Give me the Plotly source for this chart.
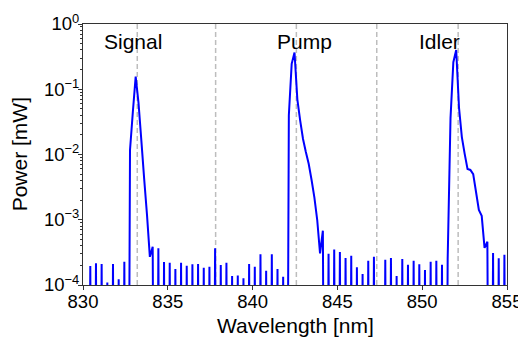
import numpy as np
import plotly.graph_objects as go

# Optical spectrum samples (nm, mW). Zero = below detection (noise-floor gaps)
wavelength_nm = [
    830.263, 830.430, 830.597, 830.765, 830.932, 831.099, 831.266, 831.434, 831.601, 831.768,
    831.935, 832.103, 832.270, 832.437, 832.604, 832.772, 832.939, 833.106, 833.273, 833.440,
    833.608, 833.775, 833.942, 834.109, 834.277, 834.444, 834.611, 834.778, 834.946, 835.113,
    835.280, 835.447, 835.614, 835.782, 835.949, 836.116, 836.283, 836.451, 836.618, 836.785,
    836.952, 837.120, 837.287, 837.454, 837.621, 837.789, 837.956, 838.123, 838.290, 838.457,
    838.625, 838.792, 838.959, 839.126, 839.294, 839.461, 839.628, 839.795, 839.963, 840.130,
    840.297, 840.464, 840.632, 840.799, 840.966, 841.133, 841.300, 841.468, 841.635, 841.802,
    841.969, 842.137, 842.304, 842.471, 842.638, 842.806, 842.973, 843.140, 843.307, 843.475,
    843.642, 843.809, 843.976, 844.143, 844.311, 844.478, 844.645, 844.812, 844.980, 845.147,
    845.314, 845.481, 845.649, 845.816, 845.983, 846.150, 846.318, 846.485, 846.652, 846.819,
    846.986, 847.154, 847.321, 847.488, 847.655, 847.823, 847.990, 848.157, 848.324, 848.492,
    848.659, 848.826, 848.993, 849.161, 849.328, 849.495, 849.662, 849.829, 849.997, 850.164,
    850.331, 850.498, 850.666, 850.833, 851.000, 851.167, 851.335, 851.502, 851.669, 851.836,
    852.004, 852.171, 852.338, 852.505, 852.672, 852.840, 853.007, 853.174, 853.341, 853.509,
    853.676, 853.843, 854.010, 854.178, 854.345, 854.512, 854.679, 854.847, 855.014,
]

power_mw = [
    0, 1.95e-4, 0, 2.15e-4, 0, 2.1e-4, 0, 1.09e-4, 0, 2.1e-4,
    0, 1.22e-4, 0, 2.28e-4, 0, 1.17e-2, 0.045, 0.156, 0.062, 0.0165,
    4.2e-3, 1.18e-3, 2.7e-4, 3.86e-4, 0, 3.65e-4, 0, 2.25e-4, 0, 2.2e-4,
    0, 1.76e-4, 0, 2.2e-4, 0, 1.98e-4, 0, 2.07e-4, 0, 2.1e-4,
    0, 1.84e-4, 0, 1.9e-4, 0, 3.65e-4, 0, 2.02e-4, 0, 2.2e-4,
    0, 1.37e-4, 0, 1.4e-4, 0, 1.27e-4, 0, 2.1e-4, 0, 1.9e-4,
    0, 2.95e-4, 0, 1.66e-4, 0, 2.95e-4, 0, 1.76e-4, 0, 1.34e-4,
    0, 0.040, 0.245, 0.365, 0.07, 0.033, 0.0173, 0.0109, 7.2e-3, 4.1e-3,
    2.2e-3, 1.0e-3, 3.06e-4, 6.8e-4, 0, 3.0e-4, 0, 3.5e-4, 0, 3.2e-4,
    0, 2.6e-4, 0, 2.8e-4, 0, 1.87e-4, 0, 1.47e-4, 0, 2.36e-4,
    0, 2.7e-4, 0, 0, 0, 2.44e-4, 0, 2.6e-4, 0, 1.37e-4,
    0, 2.5e-4, 0, 2.05e-4, 0, 2.36e-4, 0, 2.07e-4, 0, 1.7e-4,
    0, 2.28e-4, 0, 2.36e-4, 0, 2.05e-4, 0, 2.5e-4, 0.036, 0.26,
    0.40, 0.052, 0.0185, 0.0102, 6.0e-3, 5.8e-3, 5.0e-3, 2.66e-3, 1.41e-3, 1.15e-3,
    3.7e-4, 4.6e-4, 0, 3.1e-4, 0, 2.56e-4, 0, 2.9e-4, 0,
]

guide_wavelengths = [833.2, 837.82, 842.58, 847.32, 852.12]
peak_labels = ["Signal", "Pump", "Idler"]
peak_label_x = [832.92, 843.06, 851.0]

x_ticks = [830, 835, 840, 845, 850, 855]
y_exponents = [-4, -3, -2, -1, 0]

FONT = "Liberation Sans, Arial, sans-serif"

p = np.array(power_mw, dtype=float)
# clip non-positive values far below the axis (like a log-scale plot clipping)
p_plot = np.where(p > 0, p, 1e-12)

fig = go.Figure()
fig.add_trace(go.Scatter(
    x=wavelength_nm, y=p_plot, mode="lines",
    line=dict(color="#0000ff", width=2, simplify=False),
    showlegend=False, hoverinfo="skip",
))

for g in guide_wavelengths:
    fig.add_shape(type="line", xref="x", yref="paper", x0=g, x1=g, y0=0, y1=1,
                  line=dict(color="#bdbdbd", width=1.5, dash="5px,3px"), layer="below")

for lab, lx in zip(peak_labels, peak_label_x):
    fig.add_annotation(x=lx, y=0.932, xref="x", yref="paper", text=lab,
                       showarrow=False, xanchor="center", yanchor="middle",
                       font=dict(family=FONT, size=21, color="black"))

# axis titles
fig.add_annotation(x=0.5, y=-0.157, xref="paper", yref="paper", text="Wavelength [nm]",
                   showarrow=False, xanchor="center", yanchor="middle",
                   font=dict(family=FONT, size=21, color="black"))
fig.add_annotation(x=-0.149, y=0.5, xref="paper", yref="paper", text="Power [mW]",
                   textangle=-90, showarrow=False, xanchor="center", yanchor="middle",
                   font=dict(family=FONT, size=21, color="black"))

minor_vals = [m * 10.0 ** e for e in y_exponents[:-1] for m in range(2, 10)]

# page body has an 8px default margin, so the figure is sized to fit the window
fig.update_layout(
    width=518, height=329,
    margin=dict(l=75, r=19, t=16, b=52),
    paper_bgcolor="white", plot_bgcolor="white",
    font=dict(family=FONT, size=18, color="black"),
    xaxis=dict(
        range=[830, 855], tickvals=x_ticks, ticktext=[str(t) for t in x_ticks],
        showline=True, linecolor="#333", linewidth=1, mirror=True,
        ticks="outside", ticklen=4, tickcolor="#333", showgrid=False, zeroline=False,
        tickfont=dict(size=18.5), automargin=False, ticklabelstandoff=-4,
    ),
    yaxis=dict(
        type="log", range=[-4, 0],
        tickvals=[10.0 ** e for e in y_exponents],
        ticktext=["10<sup>%s</sup>" % (str(e).replace("-", "\u2212")) for e in y_exponents],
        showline=True, linecolor="#333", linewidth=1, mirror=True,
        ticks="outside", ticklen=4, tickcolor="#333", showgrid=False, zeroline=False,
        tickfont=dict(size=18.5), automargin=False, ticklabelstandoff=-5,
        minor=dict(tickvals=minor_vals, ticks="outside", ticklen=2, tickcolor="#333", showgrid=False),
    ),
)

fig.write_html("out.html")
